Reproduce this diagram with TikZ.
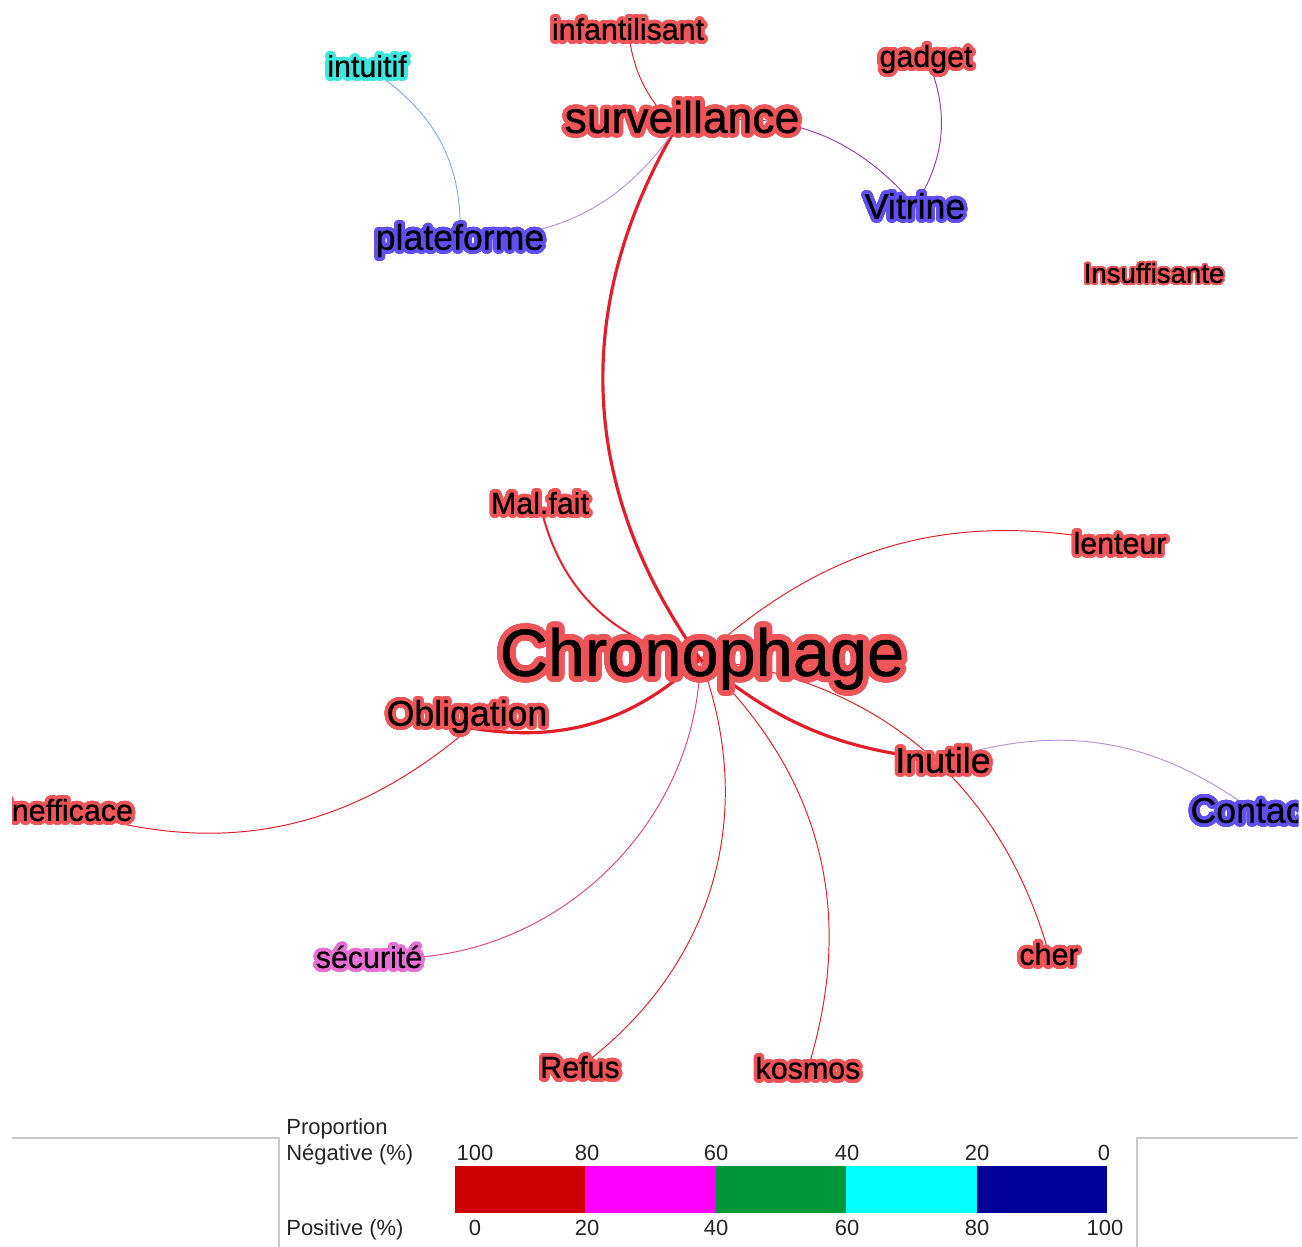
\documentclass[tikz,border=0pt]{standalone}
\usepackage{fontspec}
\setmainfont{Liberation Sans}
\newfontfamily\wordface[FakeBold=0.6]{Liberation Sans}
\usepackage{contour}
\usetikzlibrary{backgrounds}
\contournumber{32}
\contourlength{2.1pt}

\definecolor{haloRed}{RGB}{238,84,88}
\definecolor{haloBlue}{RGB}{96,78,240}
\definecolor{haloCyan}{RGB}{60,232,222}
\definecolor{haloPink}{RGB}{232,110,214}
\definecolor{edgeRed}{RGB}{228,30,40}
\definecolor{edgePink}{RGB}{226,70,130}
\definecolor{edgePurple}{RGB}{150,70,160}
\definecolor{edgeLilac}{RGB}{185,150,210}
\definecolor{edgeSky}{RGB}{130,175,225}
\definecolor{legRed}{RGB}{204,0,0}
\definecolor{legMagenta}{RGB}{255,0,255}
\definecolor{legGreen}{RGB}{0,150,57}
\definecolor{legCyan}{RGB}{0,255,255}
\definecolor{legNavy}{RGB}{0,0,153}
\definecolor{frameGray}{RGB}{200,200,200}

\tikzset{
  wordbase/.style={inner sep=0pt, text depth=0pt, text=black},
  wordhuge/.style={wordbase, font=\wordface\fontsize{38}{41}\selectfont, text height=27.2pt},
  wordlarge/.style={wordbase, font=\wordface\fontsize{25.3}{28}\selectfont, text height=18.1pt},
  wordmid/.style={wordbase, font=\wordface\fontsize{20.3}{22}\selectfont, text height=14.5pt},
  wordsmall/.style={wordbase, font=\wordface\fontsize{17.3}{19}\selectfont, text height=12.4pt},
  wordtiny/.style={wordbase, font=\wordface\fontsize{15.7}{17}\selectfont, text height=11.2pt},
  link/.style={line width=0.55pt, draw=edgeRed},
  linkmid/.style={line width=1.1pt, draw=edgeRed},
  linkthick/.style={line width=1.8pt, draw=edgeRed},
  legendtext/.style={font=\fontsize{12.5}{14}\selectfont, text=black!85, inner sep=0pt, text height=9pt, text depth=0pt},
}
\newcommand{\hred}[1]{\contour{haloRed}{#1}}
\newcommand{\hblue}[1]{\contour{haloBlue}{#1}}
\newcommand{\hcyan}[1]{\contour{haloCyan}{#1}}
\newcommand{\hpink}[1]{\contour{haloPink}{#1}}

\begin{document}
\begin{tikzpicture}[x=0.02cm, y=0.02cm]
  \useasboundingbox (0,0) rectangle (1302,-1247);

  \begin{scope}
    \clip (12,0) rectangle (1298,-1137);
    % Central word
    \node[wordhuge] (chr) at (702,-652) {\contourlength{3.3pt}\hred{Chronophage}};

    % Upper cluster
    \node[wordlarge] (surv) at (682,-117) {\contourlength{2.5pt}\hred{surveillance}};
    \node[wordsmall] (infa) at (628,-29) {\hred{infantilisant}};
    \node[wordsmall] (gadg) at (926,-56) {\hred{gadget}};
    \node[wordmid] (vitr) at (915,-206) {\hblue{Vitrine}};
    \node[wordmid] (plat) at (460,-237) {\hblue{plateforme}};
    \node[wordsmall] (intu) at (367,-66) {\hcyan{intuitif}};
    \node[wordtiny] (insu) at (1154,-273) {\contourlength{1.1pt}\hred{Insuffisante}};

    % Around Chronophage
    \node[wordsmall] (malf) at (540,-503) {\hred{Mal.fait}};
    \node[wordsmall] (lent) at (1120,-543) {\hred{lenteur}};
    \node[wordmid] (obli) at (467,-713) {\hred{Obligation}};
    \node[wordmid] (inut) at (943,-760) {\hred{Inutile}};
    \node[wordsmall] (inef) at (69,-810) {\hred{inefficace}};
    \node[wordmid] (cont) at (1252,-810) {\hblue{Contact}};
    \node[wordsmall] (secu) at (369,-957) {\hpink{sécurité}};
    \node[wordsmall] (cher) at (1049,-954) {\hred{cher}};
    \node[wordsmall] (refu) at (580,-1067) {\hred{Refus}};
    \node[wordsmall] (kosm) at (808,-1068) {\hred{kosmos}};
  \end{scope}

  % Vertex points that sit off the label centres
  \coordinate (chrv) at ([shift={(-1pt,-4pt)}]chr.center);
  \coordinate (survv) at ([shift={(-3.4pt,-6.2pt)}]surv.center);
  \coordinate (obliv) at ([shift={(1.7pt,-8.5pt)}]obli.center);
  \coordinate (intuv) at ([shift={(9pt,-6.8pt)}]intu.center);

  % Links
  \begin{scope}[on background layer]
    \fill[white] (0,0) rectangle (1302,-1247);
    \draw[linkthick] (chrv) to[bend left=33] (survv);
    \draw[linkthick] (chrv) to[bend left=26] (obliv);
    \draw[linkthick] (chrv) to[bend right=17] (inut.center);
    \draw[linkmid] (chrv) to[bend left=34] (malf.center);
    \draw[link] (chrv) to[bend left=27] (lent.center);
    \draw[link] (chrv) to[bend left=34] (cher.center);
    \draw[link, draw=edgePink] (chrv) to[bend left=47] (secu.center);
    \draw[link] (chrv) to[bend left=37] (refu.center);
    \draw[link] (chrv) to[bend left=32] (kosm.center);
    \draw[link] (obliv) to[bend left=29] (inef.center);
    \draw[link, draw=edgeLilac] (inut.center) to[bend left=27] (cont.center);
    \draw[link] (infa.center) to[bend right=19] (survv);
    \draw[link, draw=edgePurple] (survv) to[bend left=32] (vitr.center);
    \draw[link, draw=edgePurple] (gadg.center) to[bend left=28] (vitr.center);
    \draw[link, draw=edgeSky] (intuv) to[bend left=28] (plat.center);
    \draw[link, draw=edgeLilac] (plat.center) to[bend right=29] (survv);
  \end{scope}

  % Legend
  \draw[frameGray, line width=0.6pt] (12,-1138) -- (279,-1138) -- (279,-1247);
  \draw[frameGray, line width=0.6pt] (1298,-1138) -- (1137,-1138) -- (1137,-1247);
  \node[legendtext, anchor=west] (lgprop) at (286,-1127) {Proportion};
  \node[legendtext, anchor=west] (lgneg) at (286,-1153) {Négative (\%)};
  \node[legendtext, anchor=west] (lgpos) at (286,-1228) {Positive (\%)};
  \foreach \c [count=\i from 0] in {legRed,legMagenta,legGreen,legCyan,legNavy}
    \fill[\c] ({455+130.4*\i},-1166) rectangle ({455+130.4*(\i+1)},-1213);
  \foreach \x/\v [count=\i] in {475/100,587/80,716/60,847/40,977/20,1104/0}
    \node[legendtext] (lgtop\i) at (\x,-1153) {\v};
  \foreach \x/\v [count=\i] in {475/0,587/20,716/40,847/60,977/80,1105/100}
    \node[legendtext] (lgbot\i) at (\x,-1228) {\v};
\end{tikzpicture}
\end{document}
